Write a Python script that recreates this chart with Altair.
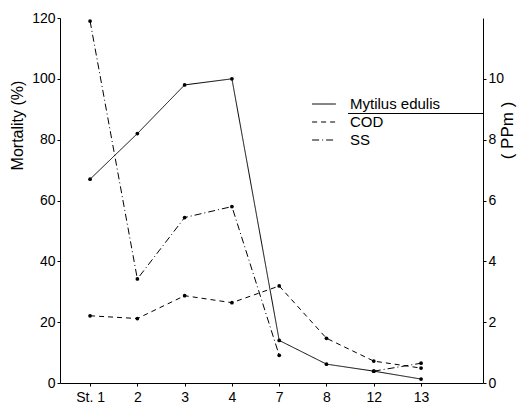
import json
import altair as alt
import pandas as pd

stations = ["St. 1", "2", "3", "4", "7", "8", "12", "13"]
mytilus = [67, 82, 98, 100, 14, 6.2, 3.9, 1.3]          # Mortality (%)
cod = [2.21, 2.12, 2.87, 2.64, 3.19, 1.47, 0.72, 0.49]  # PPm
ss = [11.9, 3.42, 5.44, 5.8, 0.91, None, 0.39, 0.65]    # PPm

series_order = ["Mytilus edulis", "COD", "SS"]
dash_range = [[1, 0], [5, 4], [7, 3, 1, 3]]


def long(name, vals):
    rows, seg = [], 0
    for i, (s, v) in enumerate(zip(stations, vals)):
        if v is None:
            seg += 1
            continue
        rows.append(dict(idx=i, station=s, series=name, value=v, seg=f"{name}-{seg}"))
    return rows


left_df = pd.DataFrame(long("Mytilus edulis", mytilus))
right_df = pd.DataFrame(long("COD", cod) + long("SS", ss))

FONT = "Liberation Sans"

x = alt.X(
    "idx:Q",
    scale=alt.Scale(domain=[-0.636, 8.31], nice=False, zero=False),
    axis=alt.Axis(
        values=list(range(len(stations))),
        labelExpr=f"{json.dumps(stations)}[datum.value]",
        title=None, grid=False, labelFontSize=14, labelPadding=4,
        tickSize=3, tickColor="black", domainColor="black", labelColor="black",
    ),
)

dash = alt.StrokeDash(
    "series:N",
    scale=alt.Scale(domain=series_order, range=dash_range),
    legend=alt.Legend(
        title=None, orient="none", legendX=255, legendY=77,
        symbolType="M-1.4,0H1.4", symbolStrokeColor="black", symbolStrokeWidth=1,
        symbolFillColor="transparent",
        symbolSize=289, labelFontSize=15, labelOffset=17, rowPadding=1,
        labelColor="black", padding=0,
    ),
)

y_left = alt.Y(
    "value:Q",
    scale=alt.Scale(domain=[0, 120], nice=False),
    axis=alt.Axis(
        orient="left", values=[0, 20, 40, 60, 80, 100, 120], title="Mortality (%)",
        grid=False, labelFontSize=14, labelPadding=2, tickSize=3,
        titleFontSize=16, titleFontWeight="normal", titleX=-35, titleY=107,
        tickColor="black", domainColor="black", labelColor="black", titleColor="black",
    ),
)

y_right = alt.Y(
    "value:Q",
    scale=alt.Scale(domain=[0, 12], nice=False),
    axis=alt.Axis(
        orient="right", values=[0, 2, 4, 6, 8, 10], title="( PPm )",
        grid=False, labelFontSize=14, labelPadding=2, tickSize=3,
        titleFontSize=17, titleFontWeight="normal", titleAngle=270,
        titleX=33, titleY=112,
        tickColor="black", domainColor="black", labelColor="black", titleColor="black",
    ),
)

left_line = alt.Chart(left_df).mark_line(color="black", strokeWidth=1).encode(
    x=x, y=y_left, strokeDash=dash, detail="seg:N"
)
left_pts = alt.Chart(left_df).mark_point(filled=True, color="black", size=14, opacity=1).encode(
    x=x, y=y_left
)
right_line = alt.Chart(right_df).mark_line(color="black", strokeWidth=1).encode(
    x=x, y=y_right, strokeDash=dash, detail="seg:N"
)
right_pts = alt.Chart(right_df).mark_point(filled=True, color="black", size=14, opacity=1).encode(
    x=x, y=y_right
)

underline = alt.Chart(left_df).mark_rule(color="black", strokeWidth=1).encode(
    x=alt.value(288), x2=alt.value(423), y=alt.value(95.5)
)

chart = (
    alt.layer(alt.layer(left_line, left_pts, underline), alt.layer(right_line, right_pts))
    .resolve_scale(y="independent")
    .properties(
        width=423, height=365,
        autosize=alt.AutoSizeParams(type="none"),
        padding={"left": 52, "top": 10, "right": 34, "bottom": 20},
        background="white",
    )
    .configure(font=FONT)
    .configure_view(strokeWidth=0)
)

chart.save("out.html", embed_options={"renderer": "svg", "actions": False})
